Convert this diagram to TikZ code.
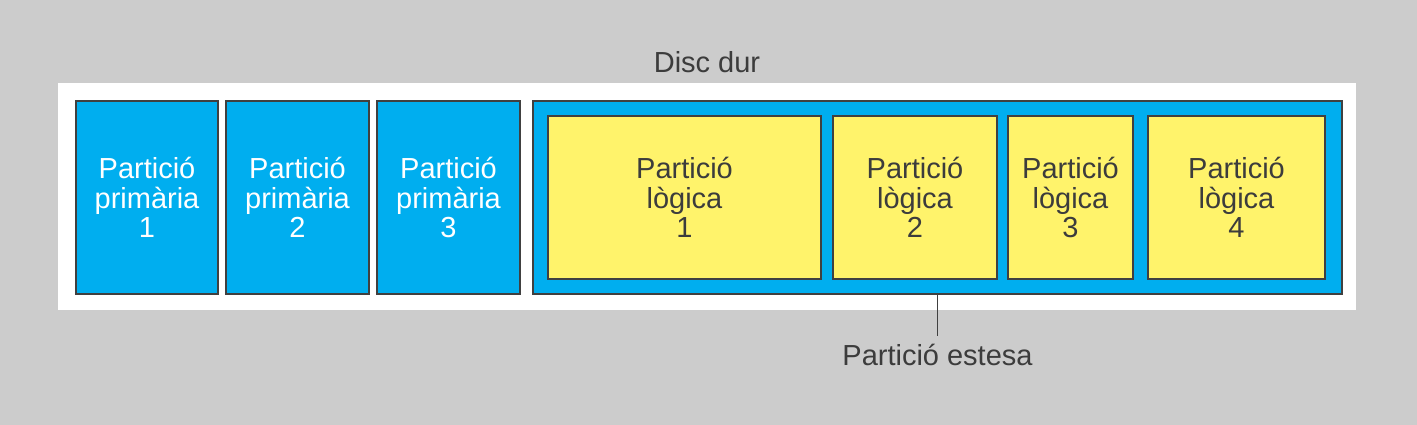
\documentclass[tikz,border=0pt]{standalone}
\usepackage{fontspec}
\setmainfont{Liberation Sans}
\usetikzlibrary{positioning}
\definecolor{Back}{HTML}{CCCCCC}
\definecolor{Primary}{HTML}{00AEEF}
\definecolor{Logical}{HTML}{FFF36B}
\definecolor{Edge}{HTML}{404040}
\definecolor{Ink}{HTML}{3C3C3C}
\tikzset{
    partbox/.style={rectangle, draw=Edge, line width=1.1pt, inner sep=0pt, align=center, font=\fontsize{16.5}{16.8}\selectfont},
    primbox/.style={partbox, fill=Primary, text=white, minimum height=3.86cm},
    logbox/.style={partbox, fill=Logical, text=Ink, minimum height=3.26cm},
    caption/.style={inner sep=0.16cm, text=Ink, font=\fontsize{16.5}{16.8}\selectfont},
}

\begin{document}
\begin{tikzpicture}[x=0.02cm, y=-0.02cm]
    % Fons
    \fill[Back] (0,0) rectangle (1417,425);
    \useasboundingbox (0,0) rectangle (1417,425);

    % Disc dur
    \node (disk) [fill=white, inner sep=0pt, minimum width=25.96cm, minimum height=4.54cm] at (707,196.5) {};
    \node (title) [caption, above=0.04cm of disk] {Disc dur};

    % Particions primàries
    \node (prim1) [primbox, minimum width=2.84cm] at (147,197.5) {Partició\\primària\\1};
    \node (prim2) [primbox, minimum width=2.86cm] at (297.5,197.5) {Partició\\primària\\2};
    \node (prim3) [primbox, minimum width=2.86cm] at (448.5,197.5) {Partició\\primària\\3};

    % Partició estesa amb les lògiques
    \node (ext) [primbox, minimum width=16.18cm] at (937.5,197.5) {};
    \node (log1) [logbox, minimum width=5.46cm] at (684.5,197.5) {Partició\\lògica\\1};
    \node (log2) [logbox, minimum width=3.28cm] at (915,197.5) {Partició\\lògica\\2};
    \node (log3) [logbox, minimum width=2.5cm] at (1070.5,197.5) {Partició\\lògica\\3};
    \node (log4) [logbox, minimum width=3.54cm] at (1236.5,197.5) {Partició\\lògica\\4};

    % Etiqueta
    \node (estesa) [caption, below=0.82cm of ext] {Partició estesa};
    \draw[Edge, line width=1.1pt] (ext.south) -- (estesa.north);
\end{tikzpicture}
\end{document}
